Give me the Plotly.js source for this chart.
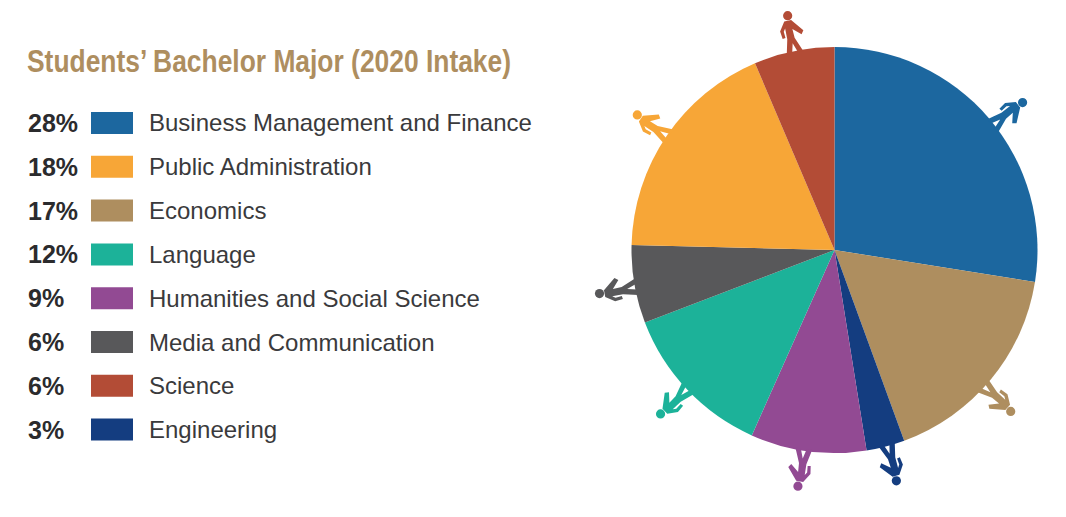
<!DOCTYPE html>
<html>
<head>
<meta charset="utf-8">
<script src="https://cdn.plot.ly/plotly-3.0.1.min.js"></script>
<style>
  html, body { margin: 0; padding: 0; background: #fff; }
  #plot { width: 1066px; height: 517px; }
</style>
</head>
<body>
<div id="plot"></div>
<script>
// legend order, as printed
const majors = [
  "Business Management and Finance",
  "Public Administration",
  "Economics",
  "Language",
  "Humanities and Social Science",
  "Media and Communication",
  "Science",
  "Engineering",
];
const printedPercents = [28, 18, 17, 12, 9, 6, 6, 3];
const colors = ["#1c679f", "#f7a637", "#ae8e5f", "#1cb299", "#924a93", "#58585a", "#b34c36", "#143d80"];

// slice sizes as drawn, the printed numbers only add up to 99
const sliceShares = [27.5, 18.2, 16.9, 12.5, 9.2, 6.2, 6.4, 3.05];

// where each walking figure stands, degrees clockwise from the top
const figureAngles = [51.9, 304.4, 132.5, 226.7, 188.8, 259.5, 348.7, 165];

// the pie runs clockwise from the top in this order
const pieOrder = [
  "Business Management and Finance",
  "Economics",
  "Engineering",
  "Humanities and Social Science",
  "Language",
  "Media and Communication",
  "Public Administration",
  "Science",
];

const W = 1066, H = 517;
const pieCx = 834.5, pieCy = 250, pieR = 203;
const px = (x) => x / W;
const py = (y) => 1 - y / H;

const textColor = "#3a3a3c";
const shapes = [];
const annotations = [];

// legend rows
majors.forEach((name, i) => {
  const rowY = 123 + i * 43.8;
  annotations.push({
    text: "<b>" + printedPercents[i] + "%</b>",
    x: px(26), y: py(rowY), xref: "paper", yref: "paper",
    xanchor: "left", yanchor: "middle", showarrow: false,
    font: { family: "Liberation Sans", size: 25, color: "#2b2b2d" },
  });
  shapes.push({
    type: "rect", xref: "paper", yref: "paper",
    x0: px(91), x1: px(133), y0: py(rowY - 11), y1: py(rowY + 11),
    fillcolor: colors[i], line: { width: 0 },
  });
  annotations.push({
    text: name,
    x: px(147), y: py(rowY), xref: "paper", yref: "paper",
    xanchor: "left", yanchor: "middle", showarrow: false,
    font: { family: "Liberation Sans", size: 24, color: textColor },
  });
});

// walking figure, u across and v away from the pie edge, in pixels
const figure = [
  [-4.5, 32], [-10.5, 23], [-9.5, 15], [-6.5, 15.5], [-7, 22], [-5, 25],
  [-5, 14], [-8.5, -1], [-3, -1], [-0.5, 9], [3, -1], [8.5, -1],
  [2.5, 14], [2, 23], [10, 16], [12.5, 19.5], [2.5, 32],
];
const headV = 37, headR = 4.6;

majors.forEach((name, i) => {
  const angle = (figureAngles[i] * Math.PI) / 180;
  const rx = Math.sin(angle), ry = -Math.cos(angle); // outward
  const tx = Math.cos(angle), ty = Math.sin(angle); // across
  const toPage = (u, v) => [
    pieCx + rx * (pieR - 1 + v) + tx * u,
    pieCy + ry * (pieR - 1 + v) + ty * u,
  ];

  const path = figure.map((p, k) => {
    const [x, y] = toPage(p[0], p[1]);
    return (k == 0 ? "M" : "L") + px(x).toFixed(5) + "," + py(y).toFixed(5);
  }).join(" ") + " Z";
  shapes.push({
    type: "path", xref: "paper", yref: "paper", path: path,
    fillcolor: colors[i], line: { width: 0 },
  });

  const [hx, hy] = toPage(0, headV);
  shapes.push({
    type: "circle", xref: "paper", yref: "paper",
    x0: px(hx - headR), x1: px(hx + headR),
    y0: py(hy - headR), y1: py(hy + headR),
    fillcolor: colors[i], line: { width: 0 },
  });
});

const trace = {
  type: "pie",
  labels: pieOrder,
  values: pieOrder.map((name) => sliceShares[majors.indexOf(name)]),
  marker: {
    colors: pieOrder.map((name) => colors[majors.indexOf(name)]),
    line: { width: 0 },
  },
  sort: false,
  direction: "clockwise",
  rotation: 0,
  textinfo: "none",
  hoverinfo: "label",
  domain: {
    x: [px(pieCx - pieR), px(pieCx + pieR)],
    y: [py(pieCy + pieR), py(pieCy - pieR)],
  },
};

const layout = {
  width: W,
  height: H,
  margin: { l: 0, r: 0, t: 0, b: 0 },
  paper_bgcolor: "#fff",
  showlegend: false,
  title: {
    text: "<b>Students’ Bachelor Major (2020 Intake)</b>",
    x: px(27), xref: "paper", xanchor: "left",
    y: py(61.5), yref: "paper", yanchor: "middle",
    font: { family: "Liberation Sans", size: 31, color: "#ae8e5f" },
  },
  shapes: shapes,
  annotations: annotations,
};

Plotly.newPlot("plot", [trace], layout, { displayModeBar: false }).then(() => {
  // no narrow bold font here, so squeeze the title to the width of the original
  const titleText = document.querySelector("#plot .gtitle");
  titleText.setAttribute("textLength", 484);
  titleText.setAttribute("lengthAdjust", "spacingAndGlyphs");
});
</script>
</body>
</html>
